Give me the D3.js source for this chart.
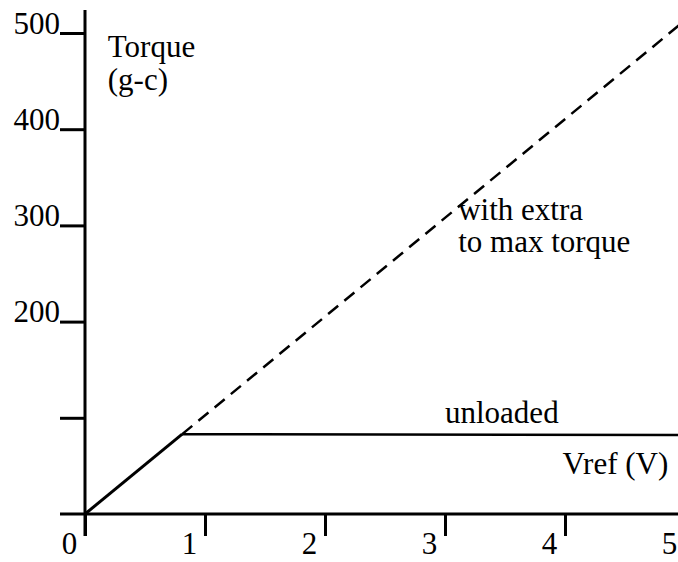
<!DOCTYPE html>
<html>
<head>
<meta charset="utf-8">
<script src="https://cdn.jsdelivr.net/npm/d3@7"></script>
<style>
  body { margin: 0; background: #fff; }
</style>
</head>
<body>
<svg id="chart"></svg>
<script>
'use strict';

const WIDTH = 678;
const HEIGHT = 562;
const FONT = 31;
const SERIF = "'Liberation Serif', 'Times New Roman', Times, 'DejaVu Serif', serif";

// data
const xTicks = [0, 1, 2, 3, 4, 5];
const yTicks = [100, 200, 300, 400, 500];
const yTickLabels = ["", "200", "300", "400", "500"];
const linearPart = [{ v: 0, t: 0 }, { v: 0.81, t: 83 }];
const unloaded = [{ v: 0.81, t: 83 }, { v: 5, t: 82 }];
const maxTorque = [{ v: 0.81, t: 83 }, { v: 4.95, t: 508 }];
const labels = [
    { text: "Torque", v: 0.19, t: 475 },
    { text: "(g-c)", v: 0.19, t: 441 },
    { text: "with extra", v: 3.11, t: 306 },
    { text: "to max torque", v: 3.11, t: 272 },
    { text: "unloaded", v: 3.0, t: 95 },
    { text: "Vref (V)", v: 3.98, t: 42 }
];

const svg = d3.select("svg#chart")
              .attr("width", WIDTH)
              .attr("height", HEIGHT)
              .style("font-family", SERIF);

const xScale = d3.scaleLinear()
                 .domain([0, 5])
                 .range([85, 685]);
const yScale = d3.scaleLinear()
                 .domain([0, 500])
                 .range([514, 33]);

// y axis: ticks to the left, labels sitting on the tick
const yAxis = d3.axisLeft(yScale)
                .tickValues(yTicks)
                .tickSize(25)
                .tickPadding(0)
                .tickFormat((d, i) => yTickLabels[i]);
const gy = svg.append("g")
              .attr("transform", "translate(" + xScale(0) + ",0)")
              .call(yAxis)
              .attr("font-family", null)
              .attr("font-size", null);
gy.select(".domain").remove();
gy.selectAll(".tick line").attr("stroke", "#000").attr("stroke-width", 3);
gy.selectAll(".tick text")
  .attr("x", -25)
  .attr("dy", 0)
  .style("font-family", SERIF)
  .style("font-size", FONT + "px");

// x axis: ticks downward, labels shifted to the left of the tick
const xAxis = d3.axisBottom(xScale)
                .tickValues(xTicks)
                .tickSize(22)
                .tickFormat(d => String(d));
const gx = svg.append("g")
              .attr("transform", "translate(0," + yScale(0) + ")")
              .call(xAxis)
              .attr("font-family", null)
              .attr("font-size", null);
gx.select(".domain").remove();
gx.selectAll(".tick line").attr("stroke", "#000").attr("stroke-width", 3);
gx.selectAll(".tick text")
  .attr("x", -16)
  .attr("y", 40)
  .attr("dy", 0)
  .style("font-family", SERIF)
  .style("font-size", FONT + "px");

// axis lines
svg.append("line")
   .attr("x1", xScale(0)).attr("x2", xScale(0))
   .attr("y1", 10).attr("y2", yScale(0) + 22)
   .attr("stroke", "#000").attr("stroke-width", 3);
svg.append("line")
   .attr("x1", 60).attr("x2", WIDTH)
   .attr("y1", yScale(0)).attr("y2", yScale(0))
   .attr("stroke", "#000").attr("stroke-width", 3);

const line = d3.line().x(d => xScale(d.v)).y(d => yScale(d.t));

svg.append("path")
   .datum(linearPart)
   .attr("fill", "none")
   .attr("stroke", "#000")
   .attr("stroke-width", 3)
   .attr("d", line);
svg.append("path")
   .datum(unloaded)
   .attr("fill", "none")
   .attr("stroke", "#000")
   .attr("stroke-width", 2.5)
   .attr("d", line);
svg.append("path")
   .datum(maxTorque)
   .attr("fill", "none")
   .attr("stroke", "#000")
   .attr("stroke-width", 2.5)
   .attr("stroke-dasharray", "13,8")
   .attr("d", line);

svg.append("g")
   .selectAll("text")
   .data(labels)
   .enter()
   .append("text")
   .attr("x", d => xScale(d.v))
   .attr("y", d => yScale(d.t))
   .style("font-family", SERIF)
   .style("font-size", FONT + "px")
   .text(d => d.text);
</script>
</body>
</html>
